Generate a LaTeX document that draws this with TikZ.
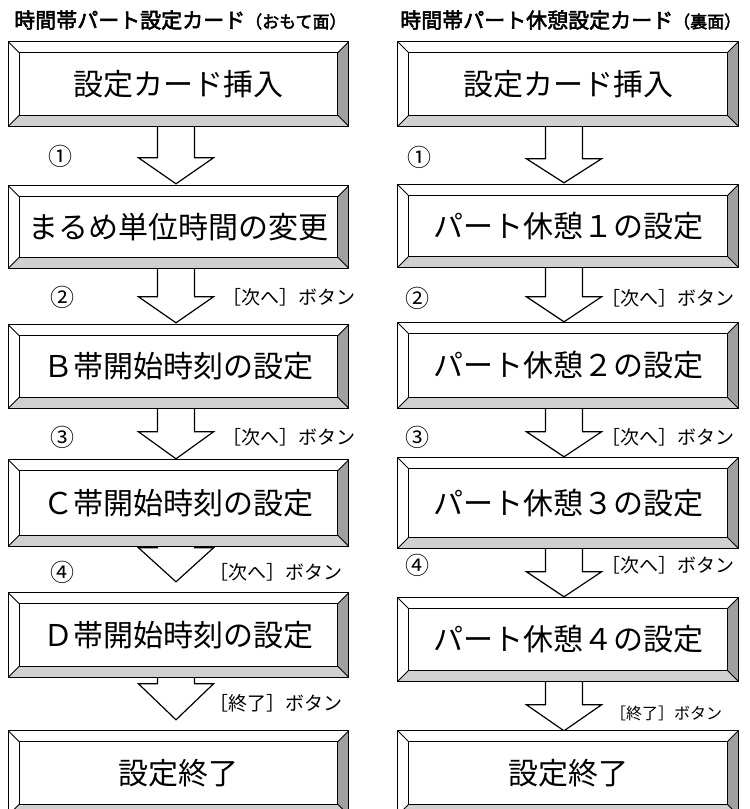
\documentclass[tikz,border=0pt]{standalone}
\usepackage{fontspec}
\setmainfont{Noto Sans CJK JP}
\newfontfamily\hdfont[FakeBold=2.5]{Noto Sans CJK JP}
\usetikzlibrary{calc}
\definecolor{bevR}{HTML}{A0A0A0}
\definecolor{bevB}{HTML}{D0D0D0}
\tikzset{
  card/.style={minimum width=340pt, minimum height=84pt, inner sep=0pt, font=\fontsize{30}{30}\selectfont},
  edge/.style={draw=black, line width=1.2pt},
  blk/.style={draw=black, fill=white, line width=1.2pt, line join=miter},
  lbl/.style={font=\fontsize{19}{19}\selectfont, inner sep=0pt, anchor=west},
  lbls/.style={font=\fontsize{16}{16}\selectfont, inner sep=0pt, anchor=west},
  num/.style={font=\fontsize{24}{24}\selectfont, inner sep=0pt},
  hdr/.style={font=\hdfont\fontsize{21}{21}\selectfont, inner sep=0pt, anchor=west},
}
\newcommand\bevelof[1]{%
  \fill[white] (#1.north west) -- (#1.north east) -- ($(#1.north east)+(-11,11)$) -- ($(#1.north west)+(11,11)$) -- cycle;
  \fill[white] (#1.north west) -- ($(#1.north west)+(11,11)$) -- ($(#1.south west)+(11,-11)$) -- (#1.south west) -- cycle;
  \fill[bevR] (#1.north east) -- (#1.south east) -- ($(#1.south east)+(-11,-11)$) -- ($(#1.north east)+(-11,11)$) -- cycle;
  \fill[bevB] (#1.south west) -- (#1.south east) -- ($(#1.south east)+(-11,-11)$) -- ($(#1.south west)+(11,-11)$) -- cycle;
  \draw[edge] (#1.north west) rectangle (#1.south east);
  \draw[edge] ($(#1.north west)+(11,11)$) rectangle ($(#1.south east)+(-11,-11)$);
  \draw[edge, line width=0.9pt] (#1.north west) -- ($(#1.north west)+(11,11)$)
    (#1.north east) -- ($(#1.north east)+(-11,11)$)
    (#1.south east) -- ($(#1.south east)+(-11,-11)$)
    (#1.south west) -- ($(#1.south west)+(11,-11)$);
}
% block arrow: from node #1 to node #2, x offset #3, head length #4, gap to target #5
\newcommand\barrow[5]{%
  \draw[blk] ($(#1.south)+(#3-18.5,0)$) -- ($(#2.north)+(#3-18.5,-#5-#4)$)
    -- ($(#2.north)+(#3-37.5,-#5-#4)$) -- ($(#2.north)+(#3,-#5)$)
    -- ($(#2.north)+(#3+37.5,-#5-#4)$) -- ($(#2.north)+(#3+18.5,-#5-#4)$)
    -- ($(#1.south)+(#3+18.5,0)$);
}
\begin{document}
\begin{tikzpicture}[x={(1pt,0)}, y={(0,-1pt)}]
\useasboundingbox (0,0) rectangle (750,809);
\fill[white] (0,0) rectangle (750,809);
% headers
\node[hdr] (hL) at (14,20) {時間帯パート設定カード{\fontsize{17}{17}\selectfont（おもて面）}};
\node[hdr] (hR) at (400,20) {時間帯パート休憩設定カード{\fontsize{17}{17}\selectfont（裏面）}};
% left column
\node[card] (L1) at (178.5,84) {設定カード挿入};
\node[card, minimum height=82pt] (L2) at (178.5,227) {まるめ単位時間の変更};
\node[card, minimum height=83pt] (L3) at (178.5,366.5) {Ｂ帯開始時刻の設定};
\node[card, minimum height=86pt] (L4) at (178.5,503) {Ｃ帯開始時刻の設定};
\node[card] (L5) at (178.5,635) {Ｄ帯開始時刻の設定};
\node[card] (L6) at (178.5,773) {設定終了};
% right column
\node[card] (R1) at (568,84) {設定カード挿入};
\node[card, minimum height=82pt] (R2) at (568,226) {パート休憩１の設定};
\node[card, minimum height=85pt] (R3) at (568,365.5) {パート休憩２の設定};
\node[card, minimum height=90pt] (R4) at (568,503) {パート休憩３の設定};
\node[card, minimum height=83pt] (R5) at (568,639.5) {パート休憩４の設定};
\node[card] (R6) at (568,773) {設定終了};
% arrows
\barrow{L1}{L2}{-2.5}{26}{2}
\barrow{L2}{L3}{-2.5}{26}{2}
\barrow{L3}{L4}{-2.5}{27}{1}
\barrow{L4}{L5}{-2.5}{34}{11}
\barrow{L5}{L6}{-2.5}{36}{11}
\barrow{R1}{R2}{-4}{24}{2}
\barrow{R2}{R3}{-4}{25}{1}
\barrow{R3}{R4}{-4}{25}{1}
\barrow{R4}{R5}{-4}{25}{1}
\barrow{R5}{R6}{-4}{26}{0}
% bevels
\bevelof{L1}\bevelof{L2}\bevelof{L3}\bevelof{L4}\bevelof{L5}\bevelof{L6}
\bevelof{R1}\bevelof{R2}\bevelof{R3}\bevelof{R4}\bevelof{R5}\bevelof{R6}
% step numbers
\node[num] (n1L) at (60,156) {①};
\node[num] (n2L) at (62,297) {②};
\node[num] (n3L) at (62,437) {③};
\node[num] (n4L) at (62,572) {④};
\node[num] (n1R) at (419,157) {①};
\node[num] (n2R) at (417,298) {②};
\node[num] (n3R) at (417,437) {③};
\node[num] (n4R) at (417,565) {④};
% button labels
\node[lbl] (b2L) at (222,297) {［次へ］ボタン};
\node[lbl] (b3L) at (222,437) {［次へ］ボタン};
\node[lbl] (b4L) at (209,572) {［次へ］ボタン};
\node[lbl] (b5L) at (209,703) {［終了］ボタン};
\node[lbl] (b2R) at (601,298) {［次へ］ボタン};
\node[lbl] (b3R) at (601,437) {［次へ］ボタン};
\node[lbl] (b4R) at (601,565) {［次へ］ボタン};
\node[lbls] (b5R) at (610,713) {［終了］ボタン};
\end{tikzpicture}
\end{document}
